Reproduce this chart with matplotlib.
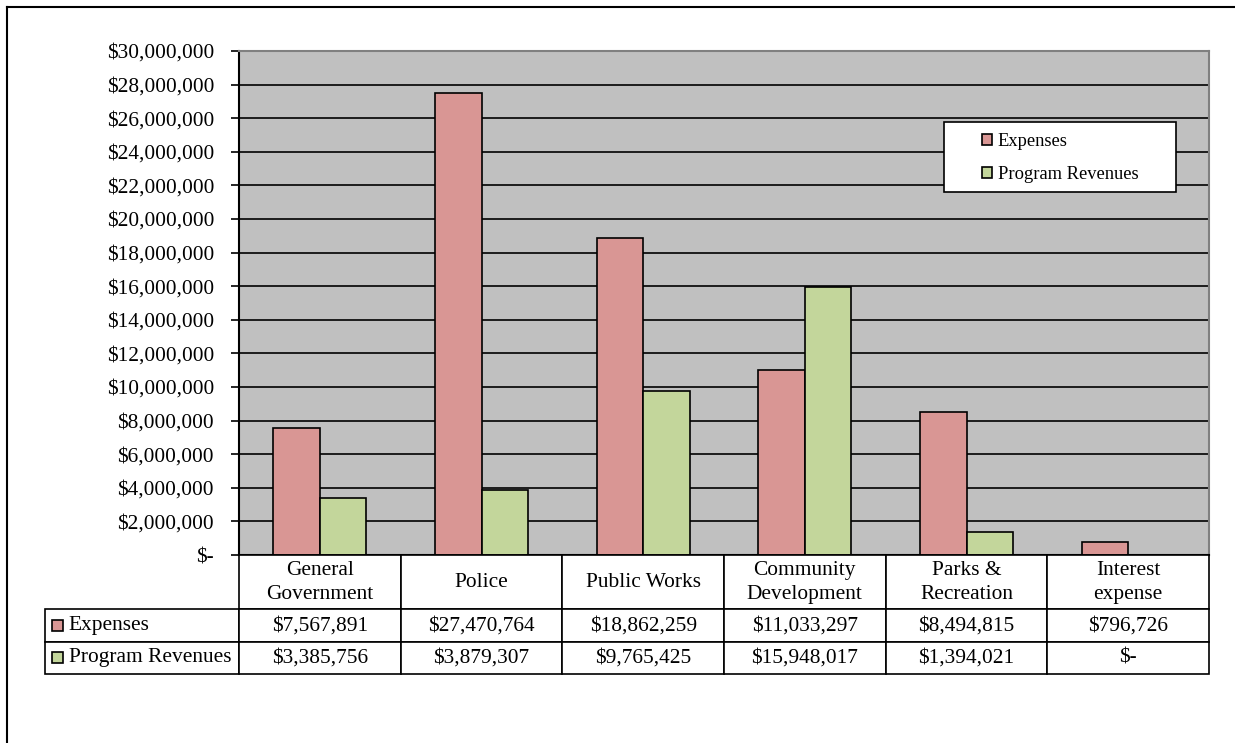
import numpy as np
import matplotlib
matplotlib.use("Agg")
from matplotlib import pyplot as plt
from matplotlib.patches import Rectangle
from matplotlib.lines import Line2D
from matplotlib.ticker import FuncFormatter

# Data
categories = ["General\nGovernment", "Police", "Public Works",
              "Community\nDevelopment", "Parks &\nRecreation", "Interest\nexpense"]
expenses = [7567891, 27470764, 18862259, 11033297, 8494815, 796726]
revenues = [3385756, 3879307, 9765425, 15948017, 1394021, 0]
series_names = ["Expenses", "Program Revenues"]
colors = ["#D99694", "#C3D69B"]

plt.rcParams["font.family"] = ["Liberation Serif", "DejaVu Serif"]
W, H = 1235, 743
fig = plt.figure(figsize=(W / 100, H / 100), dpi=100)

def fx(px):
    return px / W

def fy(py):
    return 1 - py / H

# Outer border (only top and left edges show in the crop)
fig.add_artist(Line2D([fx(7), 1], [fy(7), fy(7)], color="black", linewidth=1.5,
                      transform=fig.transFigure))
fig.add_artist(Line2D([fx(7), fx(7)], [fy(7), 0], color="black", linewidth=1.5,
                      transform=fig.transFigure))

# Main axes
ax = fig.add_axes([fx(239), fy(555), fx(1209) - fx(239), fy(51) - fy(555)])
ax.set_facecolor("#C0C0C0")
x = np.arange(len(categories))
w = 0.287
ax.bar(x - w / 2, expenses, w, color=colors[0], edgecolor="black", linewidth=1.2, zorder=3,
       label=series_names[0])
ax.bar(x + w / 2, revenues, w, color=colors[1], edgecolor="black", linewidth=1.2, zorder=3,
       label=series_names[1])
ax.set_xlim(-0.5, len(categories) - 0.5)
ax.set_ylim(0, 30000000)
ax.set_yticks(np.arange(0, 30000001, 2000000))
ax.yaxis.set_major_formatter(FuncFormatter(lambda v, p: "$-" if v == 0 else f"${v:,.0f}"))
ax.set_xticks([])
ax.tick_params(axis="y", direction="out", length=6, width=1.2, labelsize=15.4, pad=12, color="black")
ax.grid(axis="y", color="black", linewidth=1.2, zorder=1)
ax.set_axisbelow(True)
for s in ["top", "right"]:
    ax.spines[s].set_color("#808080")
    ax.spines[s].set_linewidth(1.5)
for s in ["left", "bottom"]:
    ax.spines[s].set_color("black")
    ax.spines[s].set_linewidth(1.5)

# Legend box
ax.add_patch(Rectangle((0.727, 0.721), 0.239, 0.138, transform=ax.transAxes,
                       facecolor="white", edgecolor="black", linewidth=1.2, zorder=5))
leg = ax.legend(loc="upper left", bbox_to_anchor=(0.766, 0.837), frameon=False,
                fontsize=13.3, handlelength=0.55, handleheight=0.55, handletextpad=0.3,
                labelspacing=0.85, borderpad=0, borderaxespad=0)
leg.set_zorder(6)

# Data table
tax = fig.add_axes([fx(45), fy(674), fx(1209) - fx(45), fy(555) - fy(674)])
tax.axis("off")
cell_text = [[""] + categories,
             [series_names[0]] + [f"${v:,.0f}" for v in expenses],
             [series_names[1]] + ["$-" if v == 0 else f"${v:,.0f}" for v in revenues]]
col_w = [194] + [161.7] * len(categories)
tbl = tax.table(cellText=cell_text, colWidths=col_w, cellLoc="center", bbox=[0, 0, 1, 1])
tbl.auto_set_font_size(False)
heights = [54, 32, 32]
for (r, c), cell in tbl.get_celld().items():
    cell.set_height(heights[r])
    cell.set_linewidth(1.2)
    cell.get_text().set_fontsize(15.4)
    cell.get_text().set_linespacing(1.35)
    if r == 0 and c == 0:
        cell.visible_edges = ""
    if c == 0 and r > 0:
        cell.get_text().set_ha("left")
        cell.PAD = 0.122

# Colored markers in the row labels
tot_w = sum(col_w)
tot_h = sum(heights)
for i, col in enumerate(colors):
    yc = 1 - (heights[0] + heights[1] * i + heights[1] / 2) / tot_h
    sq_w = 11 / tot_w
    sq_h = 11 / tot_h
    tax.add_patch(Rectangle((7 / tot_w, yc - sq_h / 2), sq_w, sq_h, transform=tax.transAxes,
                            facecolor=col, edgecolor="black", linewidth=1.2, zorder=10,
                            clip_on=False))

fig.savefig("out.png", dpi=100)
